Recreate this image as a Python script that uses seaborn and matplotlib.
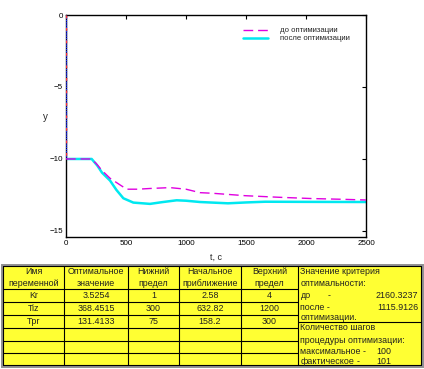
import numpy as np
import pandas as pd
import matplotlib
matplotlib.use("Agg")
import matplotlib.pyplot as plt
import seaborn as sns
from matplotlib.patches import Rectangle

# ---------------- data ----------------
t_before = [0, 210, 250, 300, 367, 450, 506, 600, 700, 867, 1000, 1117, 1217, 1492, 1772, 2050, 2300, 2500]
y_before = [-10, -10, -10.3, -10.8, -11.34, -11.8, -12.1, -12.1, -12.05, -11.99, -12.1, -12.34, -12.38,
            -12.55, -12.66, -12.75, -12.8, -12.85]
t_after = [0, 214, 260, 300, 367, 420, 478, 561, 700, 800, 922, 1000, 1117, 1350, 1500, 1660, 2000, 2500]
y_after = [-10, -10, -10.45, -10.95, -11.5, -12.15, -12.73, -13.03, -13.12, -13.0, -12.87, -12.9, -12.99,
           -13.08, -13.02, -12.97, -12.98, -12.99]
jump_t = [0, 0]
jump_y = [0, -10]
label_before = "до оптимизации"
label_after = "после оптимизации"
x_ticks = [0, 500, 1000, 1500, 2000, 2500]
y_ticks = [0, -5, -10, -15]

header = ["Имя\nпеременной", "Оптимальное\nзначение", "Нижний\nпредел", "Начальное\nприближение", "Верхний\nпредел"]
var_names = ["Kr", "Tiz", "Tpr"]
opt_vals = ["3.5254", "368.4515", "131.4133"]
low_vals = ["1", "300", "75"]
init_vals = ["2.58", "632.82", "158.2"]
up_vals = ["4", "1200", "300"]
crit_before = "2160.3237"
crit_after = "1115.9126"
steps_max = "100"
steps_fact = "101"

# ---------------- figure ----------------
sns.set_theme(style="white")
plt.rcParams['font.family'] = ['Liberation Sans', 'DejaVu Sans']
W, H = 424, 369
fig = plt.figure(figsize=(W / 100, H / 100), dpi=100)

ax = fig.add_axes([66 / W, 1 - 237 / H, 300 / W, 222 / H])
df_b = pd.DataFrame({"t": t_before, "y": y_before})
df_a = pd.DataFrame({"t": t_after, "y": y_after})

ax.plot(jump_t, jump_y, color="#2030ff", lw=1.0, ls=(0, (1, 0.6)), zorder=3)
ax.plot(jump_t, jump_y, color="#ff3030", lw=1.0, ls=(0, (2, 7)), zorder=4)
sns.lineplot(data=df_a, x="t", y="y", ax=ax, color="#00e8f0", lw=1.8, label=label_after, zorder=2)
sns.lineplot(data=df_b, x="t", y="y", ax=ax, color="#e000e0", lw=1.0, label=label_before, zorder=3)
ax.lines[-1].set_dashes([7, 3.5])

ax.set_xlim(0, 2500)
ax.set_ylim(-15.42, 0)
ax.set_xticks(x_ticks)
ax.set_yticks(y_ticks)
ax.tick_params(direction="in", length=3, width=0.8, labelsize=5.8, colors="black",
               top=True, right=True, pad=2)
for s in ax.spines.values():
    s.set_color("black")
    s.set_linewidth(1.0)
ax.set_xlabel("t, c", fontsize=6.5, labelpad=4)
ax.set_ylabel("y", fontsize=7, labelpad=10, rotation=0)
ax.yaxis.set_label_coords(-0.07, 0.52)

handles, labels = ax.get_legend_handles_labels()
order = [labels.index(label_before), labels.index(label_after)]
ax.legend([handles[i] for i in order], [labels[i] for i in order], loc="upper right",
          bbox_to_anchor=(0.955, 0.96), frameon=False, fontsize=5.6, handlelength=3.2,
          handletextpad=1.5, labelspacing=0.05, borderaxespad=0)

# ---------------- table ----------------
tab = fig.add_axes([0, 0, 1, 1])
tab.set_xlim(0, W)
tab.set_ylim(H, 0)
tab.axis("off")

yellow = "#ffff33"
x0, x1 = 3, 421
y0, y1 = 266, 365
tab.add_patch(Rectangle((x0, y0), x1 - x0, y1 - y0, facecolor=yellow, edgecolor="none"))
tab.add_patch(Rectangle((x0 - 1.5, y0 - 1), x1 - x0 + 3, y1 - y0 + 2.5, facecolor="none",
                        edgecolor="#909090", lw=1.4))
cols = [3, 64, 128, 179, 241, 298, 421]
rows = [266, 288.5, 301.5, 314.5, 328, 340.5, 353, 365]
lc = "black"
lw = 0.8
for yy in rows:
    tab.plot([cols[0], cols[5]], [yy, yy], color=lc, lw=lw)
for xx in cols:
    tab.plot([xx, xx], [rows[0], rows[-1]], color=lc, lw=lw)
tab.plot([298, 421], [266, 266], color=lc, lw=lw)
tab.plot([298, 421], [322, 322], color=lc, lw=lw)
tab.plot([298, 421], [365, 365], color=lc, lw=lw)

fs = 6.4
tc = "#202020"
centers = [(cols[i] + cols[i + 1]) / 2 for i in range(5)]
for i, h in enumerate(header):
    tab.text(centers[i], 277.5, h, ha="center", va="center", fontsize=fs, linespacing=1.35, color=tc)
columns = [var_names, opt_vals, low_vals, init_vals, up_vals]
for r in range(3):
    yc = (rows[r + 1] + rows[r + 2]) / 2
    for c in range(5):
        tab.text(centers[c], yc + 0.3, columns[c][r], ha="center", va="center", fontsize=fs, color=tc)

tx = 300.5
kw = dict(va="center", fontsize=fs, color=tc)
tab.text(tx, 271, "Значение критерия", ha="left", **kw)
tab.text(tx, 283.5, "оптимальности:", ha="left", **kw)
tab.text(tx, 295.5, "до", ha="left", **kw)
tab.text(328, 295.5, "-", ha="left", **kw)
tab.text(418, 295.5, crit_before, ha="right", **kw)
tab.text(tx, 307, "после -", ha="left", **kw)
tab.text(418, 307, crit_after, ha="right", **kw)
tab.text(tx, 317, "оптимизации.", ha="left", **kw)
tab.text(tx, 328, "Количество шагов", ha="left", **kw)
tab.text(tx, 340.5, "процедуры оптимизации:", ha="left", **kw)
tab.text(tx, 351.5, "максимальное -", ha="left", **kw)
tab.text(376, 351.5, steps_max, ha="left", **kw)
tab.text(tx, 362, "фактическое", ha="left", **kw)
tab.text(357, 362, "-", ha="left", **kw)
tab.text(376, 362, steps_fact, ha="left", **kw)

fig.savefig("out.png", dpi=100, facecolor="white")
